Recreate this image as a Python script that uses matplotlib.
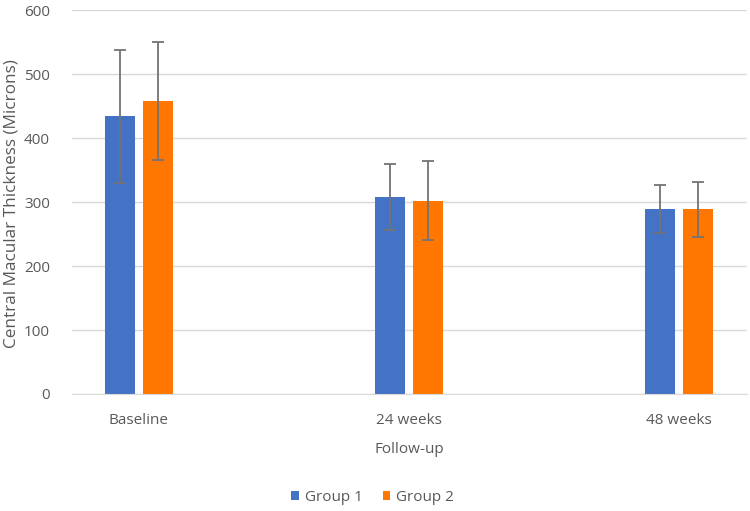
import matplotlib
matplotlib.use("Agg")
import matplotlib.pyplot as plt
import numpy as np

plt.rcParams['font.family'] = ['Open Sans', 'DejaVu Sans']

categories = ["Baseline", "24 weeks", "48 weeks"]
group1 = [434, 308, 289]
group1_err = [104, 52, 38]
group2 = [458, 302, 289]
group2_err = [92, 62, 43]

text_col = '#595959'
grid_col = '#d9d9d9'

fig = plt.figure(figsize=(7.5, 5.11), dpi=100)
ax = fig.add_axes([0.096, 0.229, 0.9, 0.751])

x = np.arange(len(categories))
w = 0.111
off = 0.0704
err_kw = dict(ecolor='#737373', elinewidth=1.3, capsize=4, capthick=1.3)
ax.bar(x - off, group1, w, yerr=group1_err, color='#4472C4', label='Group 1',
       error_kw=err_kw, zorder=2)
ax.bar(x + off, group2, w, yerr=group2_err, color='#FF7700', label='Group 2',
       error_kw=err_kw, zorder=2)

ax.set_xlim(-0.248, 2.252)
ax.set_ylim(0, 600)
ax.set_yticks(range(0, 601, 100))
ax.set_xticks(x)
ax.set_xticklabels(categories)
ax.yaxis.grid(True, color=grid_col, linewidth=1)
ax.set_axisbelow(True)
for s in ['top', 'right', 'left']:
    ax.spines[s].set_visible(False)
ax.spines['bottom'].set_color(grid_col)
ax.tick_params(axis='both', length=0, labelsize=11, colors=text_col)
ax.tick_params(axis='y', pad=16)
ax.tick_params(axis='x', pad=14)

ax.set_xlabel("Follow-up", fontsize=11, color=text_col, labelpad=10)
fig.text(0.016, 0.601, "Central Macular Thickness (Microns)", rotation=90,
         fontsize=12.3, color=text_col, ha='center', va='center')

fig.legend(loc='center', bbox_to_anchor=(0.497, 0.027), ncol=2, frameon=False,
           fontsize=11, labelcolor=text_col, handlelength=0.5, handleheight=0.5,
           handletextpad=0.4, columnspacing=1.3)

fig.savefig("out.png", dpi=100)
